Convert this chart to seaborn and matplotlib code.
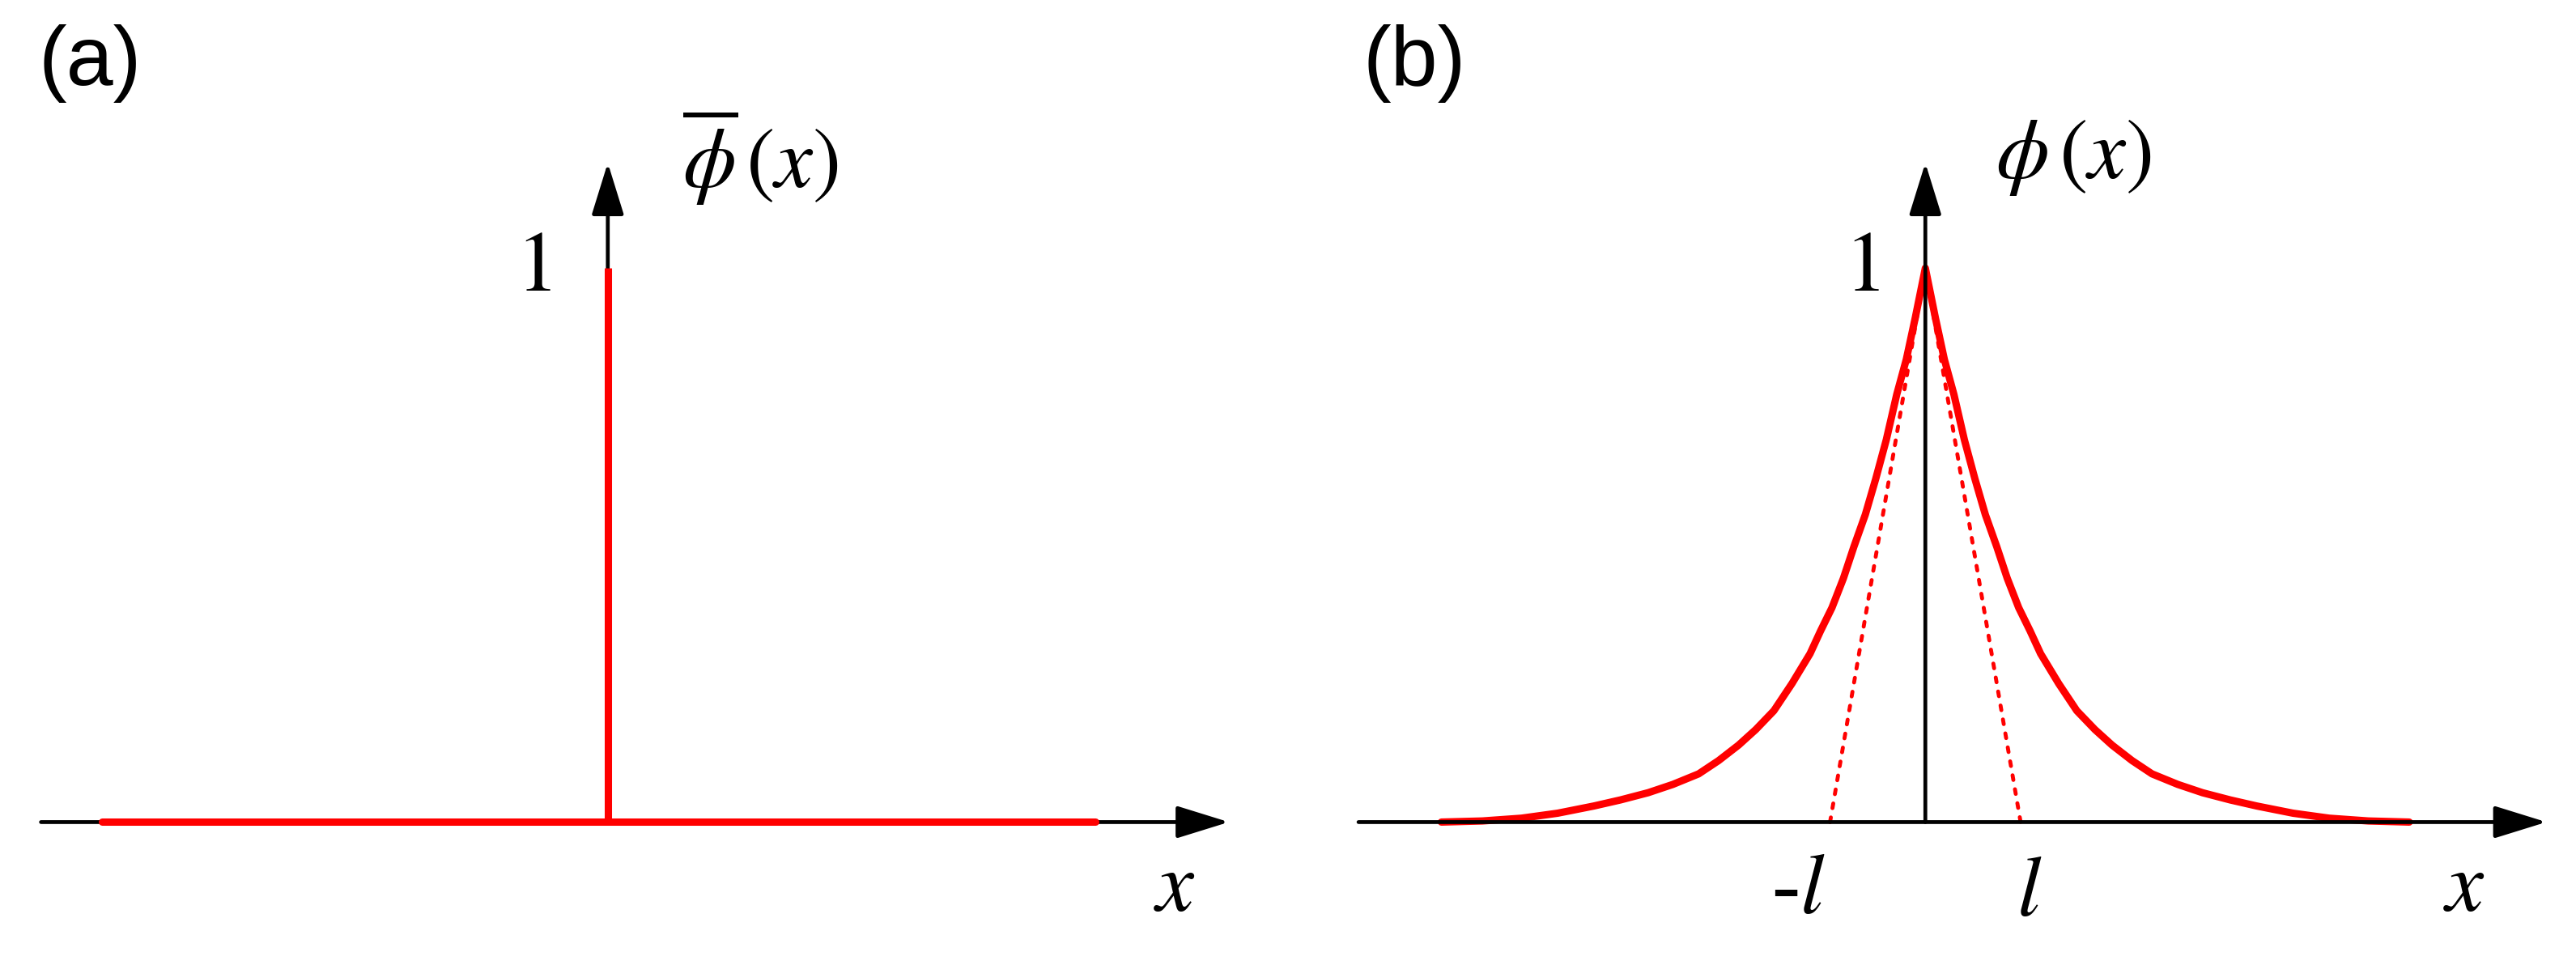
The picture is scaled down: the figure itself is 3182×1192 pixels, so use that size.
import numpy as np
import pandas as pd
import seaborn as sns
import matplotlib.pyplot as plt

# values (x in units of l, y relative to peak = 1)
# panel (a): spike at x = 0 on a flat line
a_flat_x = [-5.31, 5.12]
a_flat_y = [0, 0]
a_spike_x = [0, 0]
a_spike_y = [0, 1]

# panel (b): right half of the peaked curve (left half mirrored)
b_half_x = [0, 0.106, 0.2, 0.3, 0.41, 0.52, 0.63, 0.75, 0.86, 0.98, 1.1, 1.21, 1.4,
            1.59, 1.78, 1.96, 2.17, 2.38, 2.65, 2.91, 3.2, 3.48, 3.86, 4.24, 4.65, 5.08]
b_half_y = [1.0, 0.91, 0.835, 0.772, 0.69, 0.62, 0.555, 0.497, 0.44, 0.387, 0.345, 0.304, 0.25,
            0.201, 0.167, 0.139, 0.111, 0.087, 0.068, 0.053, 0.040, 0.029, 0.016, 0.007, 0.002, 0.0]

# dotted tangents through the peak and +-l
tan_x = [-1, 0, 1]
tan_y = [0, 1, 0]

# axis extents (start of x axis, arrow tip of x axis, arrow tip of y axis)
x_axis = [-5.95, 6.52]
y_axis_top = 1.19

b_x = [-v for v in b_half_x[::-1]] + b_half_x[1:]
b_y = b_half_y[::-1] + b_half_y[1:]

sns.set_style('white')
plt.rcParams['font.family'] = ['Liberation Sans', 'DejaVu Sans']
plt.rcParams['mathtext.fontset'] = 'stix'
plt.rcParams['text.color'] = 'black'

RED = '#ff0000'
fig = plt.figure(figsize=(31.82, 11.92), dpi=100)
ax_a = fig.add_axes([0, 0, 0.5, 1])
ax_b = fig.add_axes([0.5, 0, 0.5, 1])


def draw_axes(ax, z):
    arrow = dict(arrowstyle='-|>,head_length=2.0,head_width=0.62', mutation_scale=20,
                 lw=3.4, color='k', shrinkA=0, shrinkB=0)
    ax.annotate('', xy=(x_axis[1], 0), xytext=(x_axis[0], 0), arrowprops=arrow, zorder=z)
    ax.annotate('', xy=(0, y_axis_top), xytext=(0, 0), arrowprops=arrow, zorder=z)


# panel (a)
draw_axes(ax_a, 1)
df_a1 = pd.DataFrame({'x': a_flat_x, 'y': a_flat_y})
df_a2 = pd.DataFrame({'x': a_spike_x, 'y': a_spike_y})
sns.lineplot(data=df_a1, x='x', y='y', ax=ax_a, color=RED, lw=6.5, sort=False,
             estimator=None, solid_capstyle='round', zorder=3)
sns.lineplot(data=df_a2, x='x', y='y', ax=ax_a, color=RED, lw=6.5, sort=False,
             estimator=None, solid_capstyle='butt', zorder=3)

# panel (b)
df_b = pd.DataFrame({'x': b_x, 'y': b_y})
df_t = pd.DataFrame({'x': tan_x, 'y': tan_y})
sns.lineplot(data=df_t, x='x', y='y', ax=ax_b, color=RED, lw=3.5, sort=False,
             estimator=None, linestyle=(0, (1.2, 2.4)), dash_capstyle='round', zorder=2)
sns.lineplot(data=df_b, x='x', y='y', ax=ax_b, color=RED, lw=6.5, sort=False,
             estimator=None, solid_capstyle='round', zorder=3)
draw_axes(ax_b, 4)

ax_a.set_xlim(-6.38, 7.14)
ax_b.set_xlim(-6.69, 6.83)
for ax in (ax_a, ax_b):
    ax.set_ylim(-0.258, 1.484)
    ax.axis('off')

# labels
fs = 76
ax_a.text(-0.78, 1.0, r'$1$', fontsize=fs, ha='center', va='center')
ax_b.text(-0.67, 1.0, r'$1$', fontsize=fs, ha='center', va='center')
ax_a.text(0.78, 1.2, r'$\overline{\phi}\,(x)$', fontsize=fs, ha='left', va='center')
ax_b.text(0.74, 1.2, r'$\phi\,(x)$', fontsize=fs, ha='left', va='center')
ax_a.text(5.95, -0.12, r'$x$', fontsize=fs, ha='center', va='center')
ax_b.text(5.66, -0.12, r'$x$', fontsize=fs, ha='center', va='center')
ax_b.text(-1.33, -0.128, r'-$l$', fontsize=fs, ha='center', va='center',
          family='Liberation Serif')
ax_b.text(1.09, -0.128, r'$l$', fontsize=fs, ha='center', va='center')

fig.text(0.015, 0.975, '(a)', fontsize=75, ha='left', va='top')
fig.text(0.529, 0.975, '(b)', fontsize=75, ha='left', va='top')

fig.savefig('out.png', dpi=100)
